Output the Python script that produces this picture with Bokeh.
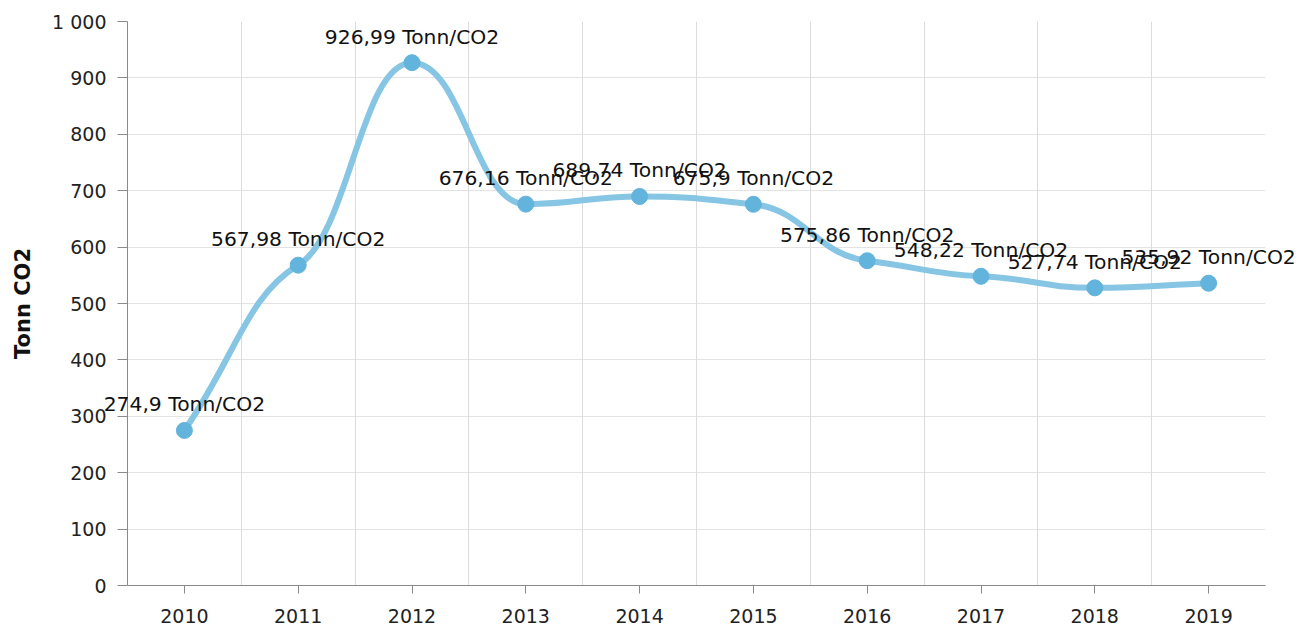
from bokeh.plotting import figure
from bokeh.models import Range1d, FixedTicker, ColumnDataSource, Grid
from bokeh.core.properties import value
from bokeh.embed import file_html
from bokeh.resources import INLINE

years = [2010, 2011, 2012, 2013, 2014, 2015, 2016, 2017, 2018, 2019]
emissions = [274.9, 567.98, 926.99, 676.16, 689.74, 675.9, 575.86, 548.22, 527.74, 535.92]
unit = "Tonn/CO2"
y_ticks = [0, 100, 200, 300, 400, 500, 600, 700, 800, 900, 1000]
y_title = "Tonn CO2"

FONT = "DejaVu Sans"
LINE_COLOR = "#86c5e3"
MARKER_COLOR = "#63b4dc"

labels = [f"{v:g}".replace(".", ",") + " " + unit for v in emissions]


def smooth_segments(xs, ys, reach=0.45, damp=0.37):
    """Cubic Bezier control points for a smoothed line through the points."""
    n = len(xs)
    slopes = []
    for i in range(n):
        if i == 0:
            slopes.append((ys[1] - ys[0]) / (xs[1] - xs[0]))
        elif i == n - 1:
            slopes.append((ys[-1] - ys[-2]) / (xs[-1] - xs[-2]))
        else:
            d0 = ys[i] - ys[i - 1]
            d1 = ys[i + 1] - ys[i]
            if d0 * d1 <= 0:
                slopes.append(0.0)
            else:
                slopes.append(damp * (ys[i + 1] - ys[i - 1]) / (xs[i + 1] - xs[i - 1]))
    seg = dict(x0=[], y0=[], x1=[], y1=[], cx0=[], cy0=[], cx1=[], cy1=[])
    for i in range(n - 1):
        dx = xs[i + 1] - xs[i]
        seg["x0"].append(xs[i]); seg["y0"].append(ys[i])
        seg["x1"].append(xs[i + 1]); seg["y1"].append(ys[i + 1])
        seg["cx0"].append(xs[i] + reach * dx); seg["cy0"].append(ys[i] + reach * dx * slopes[i])
        seg["cx1"].append(xs[i + 1] - reach * dx); seg["cy1"].append(ys[i + 1] - reach * dx * slopes[i + 1])
    return seg


p = figure(width=1298, height=627, output_backend="svg", toolbar_location=None,
           x_range=Range1d(years[0] - 0.5, years[-1] + 0.5),
           y_range=Range1d(y_ticks[0], y_ticks[-1]),
           min_border_left=127, min_border_right=33, min_border_top=21, min_border_bottom=42)
p.outline_line_color = None
p.background_fill_color = "white"
p.border_fill_color = "white"

# grids
p.xgrid.visible = False
p.ygrid.ticker = FixedTicker(ticks=y_ticks)
p.ygrid.grid_line_color = "#e3e3e3"
p.ygrid.grid_line_width = 1
vgrid = Grid(dimension=0, ticker=FixedTicker(ticks=[y + 0.5 for y in years]),
             grid_line_color="#dcdcdc", grid_line_width=1)
p.add_layout(vgrid)

# x axis
p.xaxis.ticker = FixedTicker(ticks=years)
p.xaxis.major_label_overrides = {y: str(y) for y in years}
p.xaxis.minor_tick_line_color = None
p.xaxis.major_tick_out = 8
p.xaxis.major_tick_in = 0
p.xaxis.axis_line_color = "#8a8a8a"
p.xaxis.major_tick_line_color = "#8a8a8a"
p.xaxis.major_label_text_font = FONT
p.xaxis.major_label_text_font_size = "19px"
p.xaxis.major_label_text_color = "#222222"
p.xaxis.major_label_standoff = 15

# y axis
p.yaxis.ticker = FixedTicker(ticks=y_ticks)
p.yaxis.major_label_overrides = {t: (f"{t:,}".replace(",", " ")) for t in y_ticks}
p.yaxis.minor_tick_line_color = None
p.yaxis.major_tick_out = 10
p.yaxis.major_tick_in = 0
p.yaxis.axis_line_color = "#8a8a8a"
p.yaxis.major_tick_line_color = "#8a8a8a"
p.yaxis.major_label_text_font = FONT
p.yaxis.major_label_text_font_size = "19px"
p.yaxis.major_label_text_color = "#222222"
p.yaxis.major_label_standoff = 11
p.yaxis.axis_label = y_title
p.yaxis.axis_label_text_font = FONT
p.yaxis.axis_label_text_font_size = "21px"
p.yaxis.axis_label_text_font_style = "bold"
p.yaxis.axis_label_text_color = "#111111"
p.yaxis.axis_label_standoff = 14

# smoothed line
seg = smooth_segments(years, emissions)
p.bezier(x0="x0", y0="y0", x1="x1", y1="y1", cx0="cx0", cy0="cy0", cx1="cx1", cy1="cy1",
         source=ColumnDataSource(seg), line_color=LINE_COLOR, line_width=6)

src = ColumnDataSource(dict(x=years, y=emissions, label=labels))
p.scatter("x", "y", source=src, size=16, fill_color=MARKER_COLOR, line_color=MARKER_COLOR)
p.text("x", "y", text="label", source=src, text_font=value(FONT), text_font_size="20.3px",
       text_align="center", text_baseline="alphabetic", y_offset=-26, text_color="#111111",
       level="overlay")

open("out.html", "w").write(file_html(p, INLINE))
